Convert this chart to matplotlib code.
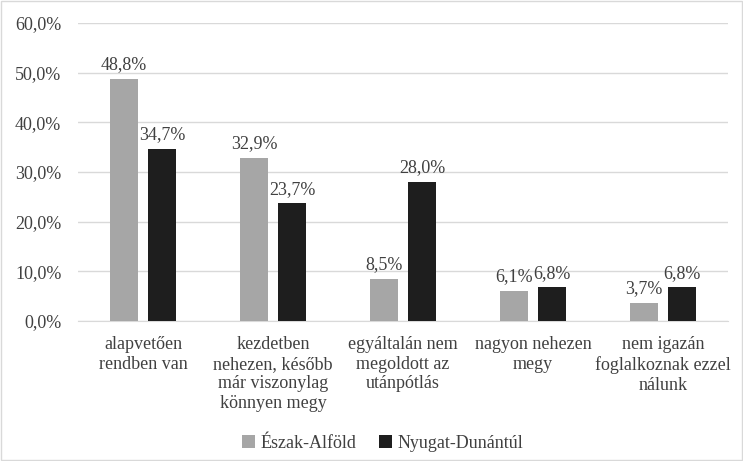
import matplotlib
matplotlib.use("Agg")
import matplotlib.pyplot as plt
import numpy as np

categories = ["alapvetően\nrendben van",
              "kezdetben\nnehezen, később\nmár viszonylag\nkönnyen megy",
              "egyáltalán nem\nmegoldott az\nutánpótlás",
              "nagyon nehezen\nmegy",
              "nem igazán\nfoglalkoznak ezzel\nnálunk"]
series_names = ["Észak-Alföld", "Nyugat-Dunántúl"]
eszak_alfold = [48.8, 32.9, 8.5, 6.1, 3.7]
nyugat_dunantul = [34.7, 23.7, 28.0, 6.8, 6.8]
yticks = [0, 10, 20, 30, 40, 50, 60]

plt.rcParams['font.family'] = ['Liberation Serif', 'DejaVu Serif']
txt = '#404040'
fs = 13

fig = plt.figure(figsize=(7.43, 4.61), dpi=100)
ax = fig.add_axes([0.105, 0.3037, 0.875, 0.6463])

x = np.arange(len(categories))
w = 0.215
off = 0.146
b1 = ax.bar(x - off, eszak_alfold, w, color='#A6A6A6', label=series_names[0], zorder=3)
b2 = ax.bar(x + off, nyugat_dunantul, w, color='#1E1E1E', label=series_names[1], zorder=3)

def fmt(v):
    return f"{v:.1f}%".replace('.', ',')

for bars, vals in ((b1, eszak_alfold), (b2, nyugat_dunantul)):
    for r, v in zip(bars, vals):
        ax.annotate(fmt(v), (r.get_x() + r.get_width() / 2, v), xytext=(0, 4),
                    textcoords='offset points', ha='center', va='bottom',
                    fontsize=fs, color=txt)

ax.set_ylim(0, 60)
ax.set_xlim(-0.5, len(categories) - 0.5)
ax.set_yticks(yticks)
ax.set_yticklabels([f"{t:.1f}%".replace('.', ',') for t in yticks], fontsize=fs, color=txt)
ax.set_xticks(x)
ax.set_xticklabels(categories, fontsize=fs, color=txt, linespacing=1.2, va='top')
ax.tick_params(axis='both', length=0)
ax.tick_params(axis='x', pad=11)
ax.tick_params(axis='y', pad=12)
ax.grid(axis='y', color='#D9D9D9', linewidth=1, zorder=0)
for s in ['top', 'right', 'left']:
    ax.spines[s].set_visible(False)
ax.spines['bottom'].set_color('#D9D9D9')

leg = fig.legend(handles=[b1, b2], labels=series_names, loc='center',
                 bbox_to_anchor=(0.515, 0.038), ncol=2, frameon=False,
                 fontsize=fs, handlelength=0.7, handleheight=0.7,
                 handletextpad=0.3, columnspacing=1.3)
for t in leg.get_texts():
    t.set_color(txt)

fig.patches.append(plt.Rectangle((0.002, 0.002), 0.996, 0.996, transform=fig.transFigure,
                                 fill=False, edgecolor='#D9D9D9', linewidth=1))
fig.savefig("out.png", dpi=100)
